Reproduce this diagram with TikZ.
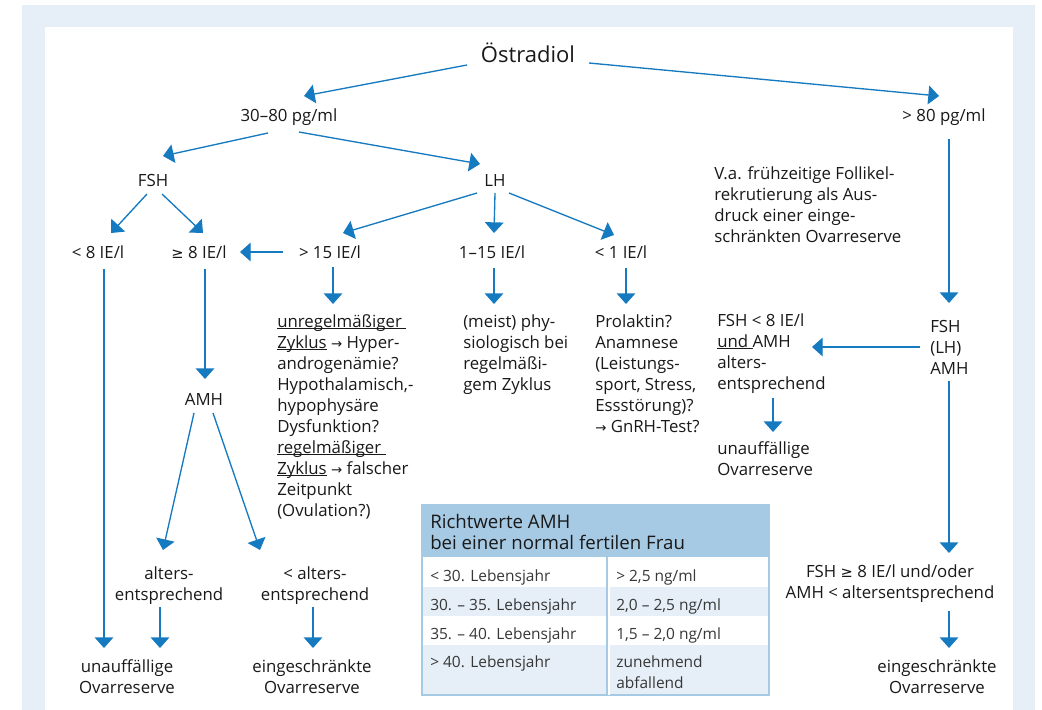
\documentclass[tikz,border=0pt]{standalone}
\usepackage{fontspec}
\setmainfont{Open Sans}
\newfontfamily\symf{DejaVu Sans}
\usetikzlibrary{arrows.meta}

\definecolor{pfeil}{RGB}{22,122,192}
\definecolor{bgblau}{RGB}{230,238,247}
\definecolor{kopf}{RGB}{166,201,228}
\definecolor{zeile}{RGB}{230,239,248}
\definecolor{ink}{RGB}{25,25,25}
\definecolor{tink}{RGB}{55,55,55}

\newcommand{\pfs}{\fontsize{12.6pt}{15.75pt}\selectfont}
\newcommand{\pbig}{\fontsize{16.5pt}{20pt}\selectfont}
\newcommand{\tfs}{\fontsize{11.6pt}{15.75pt}\selectfont}
\newcommand{\hfs}{\fontsize{14pt}{15.75pt}\selectfont}
\newcommand{\pra}{{\symf\fontsize{10pt}{10pt}\selectfont →}}
\newcommand{\pge}{{\symf\fontsize{11pt}{11pt}\selectfont ≥}}
\newcommand{\unt}[1]{\sbox0{#1}\rlap{\rule[-1.6pt]{\wd0}{0.5pt}}\usebox0}

\begin{document}
\begin{tikzpicture}[x=0.75pt,y=-0.75pt,>={Triangle[width=14pt,length=8pt]},
  every node/.style={inner sep=0pt,font=\pfs,text=ink},
  every edge/.style={draw=pfeil,line width=1pt,->},
  tb/.style={font=\tfs,text=tink,anchor=base west}]

  \useasboundingbox (0,0) rectangle (1042,710);
  \fill[bgblau] (22,5) rectangle (1035,710);
  \fill[white] (45,27) rectangle (1013,710);

  \node[font=\pbig,anchor=base] (oe) at (528,63) {Östradiol};
  \node[anchor=base] (lo) at (289,122) {30–80 pg/ml};
  \node[anchor=base] (hi) at (944,122) {> 80 pg/ml};
  \node[anchor=base] (fsh) at (153,186) {FSH};
  \node[anchor=base] (lh) at (495,186) {LH};
  \node[anchor=base] (lt8) at (98,258) {< 8 IE/l};
  \node[anchor=base] (ge8) at (199,258) {\pge\ 8 IE/l};
  \node[anchor=base] (gt15) at (330,258) {> 15 IE/l};
  \node[anchor=base] (mid) at (492,258) {1–15 IE/l};
  \node[anchor=base] (lt1) at (621,258) {< 1 IE/l};
  \node[anchor=base] (amh) at (204,405) {AMH};
  \node[anchor=base,align=center] (alt) at (169,600) {alters-\\entsprechend};
  \node[anchor=base,align=center] (nalt) at (315,600) {< alters-\\entsprechend};
  \node[anchor=base,align=center] (un1) at (127,693) {unauffällige\\Ovarreserve};
  \node[anchor=base,align=center] (ein1) at (312,693) {eingeschränkte\\Ovarreserve};
  \node[anchor=base west,align=left] (unr) at (277,516) {\unt{unregelmäßiger\ }\\\unt{Zyklus} \pra\ Hyper-\\androgenämie?\\Hypothalamisch,-\\hypophysäre\\Dysfunktion?\\\unt{regelmäßiger\ }\\\unt{Zyklus} \pra\ falscher\\Zeitpunkt\\(Ovulation?)};
  \node[anchor=base west,align=left] (phy) at (463,390) {(meist) phy-\\siologisch bei\\regelmäßi-\\gem Zyklus};
  \node[anchor=base west,align=left] (pro) at (595,432) {Prolaktin?\\Anamnese\\(Leistungs-\\sport, Stress,\\Essstörung)?\\\pra\ GnRH-Test?};
  \node[anchor=base west,align=left] (va) at (714,242) {V.a. frühzeitige Follikel-\\rekrutierung als Aus-\\druck einer einge-\\schränkten Ovarreserve};
  \node[anchor=base west,align=left] (rfsh) at (930,374) {FSH\\(LH)\\AMH};
  \node[anchor=base west,align=left] (rlt) at (717,389) {FSH < 8 IE/l\\\unt{und\ }AMH\\alters-\\entsprechend};
  \node[anchor=base west,align=left] (run) at (717,475) {unauffällige\\Ovarreserve};
  \node[anchor=base,align=center] (rge) at (890,598) {FSH \pge\ 8 IE/l und/oder\\AMH < altersentsprechend};
  \node[anchor=base,align=center] (rein) at (937,693) {eingeschränkte\\Ovarreserve};

  \path ([shift={(-61,2)}]oe.base) edge ([shift={(15,-26)}]lo.base)
        ([shift={(61,0)}]oe.base) edge ([shift={(-5,-26)}]hi.base)
        ([shift={(-21,11)}]lo.base) edge ([shift={(10,-30)}]fsh.base)
        ([shift={(10,10)}]lo.base) edge ([shift={(-15,-22)}]lh.base)
        ([shift={(-6,8)}]fsh.base) edge ([shift={(13,-25)}]lt8.base)
        ([shift={(9,8)}]fsh.base) edge ([shift={(4,-25)}]ge8.base)
        ([shift={(-47,-6)}]gt15.base) edge ([shift={(41,-6)}]ge8.base)
        ([shift={(-18,7)}]lh.base) edge ([shift={(13,-25)}]gt15.base)
        ([shift={(0,7)}]lh.base) edge ([shift={(2,-25)}]mid.base)
        ([shift={(14,7)}]lh.base) edge ([shift={(-7,-23)}]lt1.base)
        ([shift={(5,17)}]hi.base) edge ([shift={(19,-71)}]rfsh.base west)
        ([shift={(6,11)}]lt8.base) edge ([shift={(-23,-45)}]un1.base)
        ([shift={(6,11)}]ge8.base) edge ([shift={(1,-26)}]amh.base)
        ([shift={(-10,8)}]amh.base) edge ([shift={(-6,-50)}]alt.base)
        ([shift={(9,8)}]amh.base) edge ([shift={(-55,-50)}]nalt.base)
        ([shift={(-9,7)}]alt.base) edge ([shift={(33,-45)}]un1.base)
        ([shift={(-2,7)}]nalt.base) edge ([shift={(1,-45)}]ein1.base)
        ([shift={(3,9)}]gt15.base) edge ([shift={(56,-212)}]unr.base west)
        ([shift={(2,10)}]mid.base) edge ([shift={(31,-86)}]phy.base west)
        ([shift={(5,10)}]lt1.base) edge ([shift={(31,-128)}]pro.base west)
        ([shift={(-10,-27)}]rfsh.base west) edge ([shift={(95,-42)}]rlt.base west)
        ([shift={(56,9)}]rlt.base west) edge ([shift={(56,-43)}]run.base west)
        ([shift={(19,7)}]rfsh.base west) edge ([shift={(59,-45)}]rge.base)
        ([shift={(59,13)}]rge.base) edge ([shift={(12,-45)}]rein.base);

  \fill[kopf] (422,505) rectangle (769,557);
  \fill[zeile] (422,587) rectangle (769,616);
  \fill[zeile] (422,645) rectangle (769,695);
  \draw[kopf,line width=1.5] (422,505) rectangle (769,695);
  \draw[kopf,line width=1.5] (606.5,557) -- (606.5,695);
  \draw[white,line width=1.5] (609,557) -- (609,695);

  \node[tb,font=\hfs,text=ink,align=left] (th) at (430,549) {Richtwerte AMH\\bei einer normal fertilen Frau};
  \node[tb] (a1) at (430,581) {< 30. Lebensjahr};
  \node[tb] (b1) at (616,581) {> 2,5 ng/ml};
  \node[tb] (a2) at (430,610) {30. – 35. Lebensjahr};
  \node[tb] (b2) at (616,610) {2,0 – 2,5 ng/ml};
  \node[tb] (a3) at (430,639) {35. – 40. Lebensjahr};
  \node[tb] (b3) at (616,639) {1,5 – 2,0 ng/ml};
  \node[tb] (a4) at (430,667) {> 40. Lebensjahr};
  \node[tb,align=left] (b4) at (616,688) {zunehmend\\abfallend};

\end{tikzpicture}
\end{document}
